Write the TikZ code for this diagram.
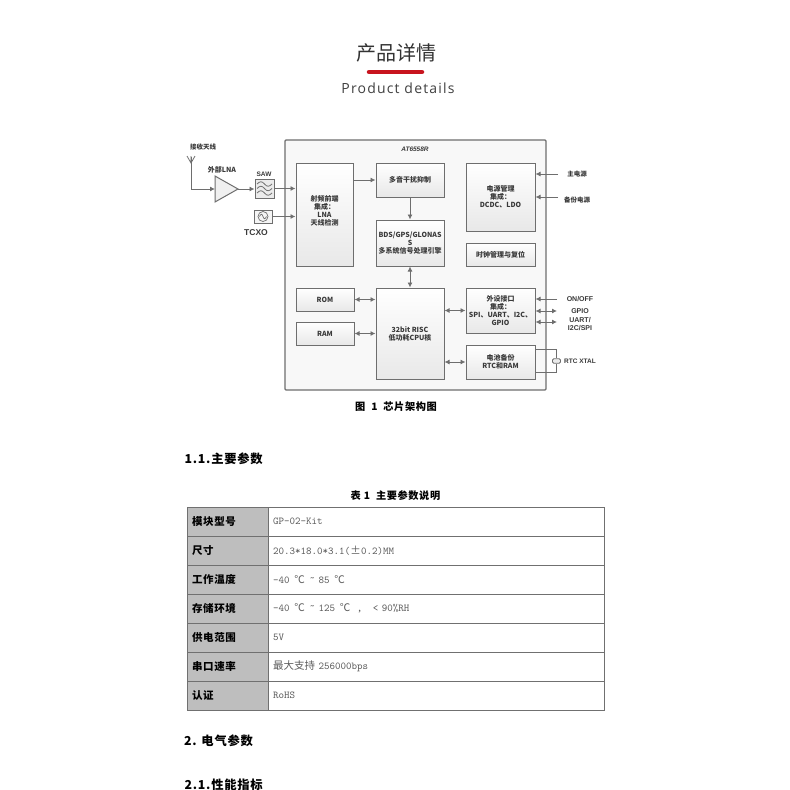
\documentclass[tikz,border=0pt]{standalone}
\usepackage{fontspec}
\usetikzlibrary{arrows.meta,calc}
\setmainfont{Liberation Sans}
\newfontfamily\cjk{Noto Sans CJK SC}
\newfontfamily\cjkls[LetterSpace=6]{Noto Sans CJK SC}
\newfontfamily\prodfont[LetterSpace=8.5]{Open Sans}
\definecolor{linegray}{HTML}{6E6E6E}
\definecolor{txtgray}{HTML}{3A3A3A}
\definecolor{valgray}{HTML}{5A5A5A}
\definecolor{chipbg}{HTML}{F8F8F8}
\definecolor{labelbg}{HTML}{BEBEBE}
\definecolor{rowline}{HTML}{707070}
\definecolor{redbar}{HTML}{C8141E}
\newcommand{\degc}{\makebox[13pt][c]{\cjk ℃}}
\newcommand{\plusmn}{\makebox[11pt][c]{\cjk ±}}
\newcommand{\tld}{\raisebox{2pt}{\textasciitilde}}
\tikzset{
  blk/.style={draw=linegray,line width=1pt,top color=white,bottom color=black!9,inner sep=0pt,
    align=center,text=txtgray,font=\cjk\bfseries\fontsize{7}{8}\selectfont},
  lbl/.style={inner sep=0pt,align=center,text=txtgray,font=\cjk\bfseries\fontsize{7}{8.2}\selectfont},
  conn/.style={draw=linegray,line width=0.9pt},
  one/.style={conn,-{Latex[length=5pt,width=5pt]}},
  two/.style={conn,{Latex[length=5pt,width=5pt]}-{Latex[length=5pt,width=5pt]}},
  head/.style={inner sep=0pt,anchor=west,text=black,font=\cjkls\bfseries\fontsize{12.3}{14}\selectfont},
  capt/.style={inner sep=0pt,text=black,font=\cjkls\bfseries\fontsize{10.2}{12}\selectfont},
  cellL/.style={draw=rowline,line width=1pt,fill=labelbg,minimum width=81pt,inner sep=0pt,
    text width=71pt,align=left,font=\cjkls\bfseries\fontsize{10.5}{12}\selectfont},
  cellR/.style={draw=rowline,line width=1pt,fill=white,minimum width=336pt,inner sep=0pt,
    text width=326pt,align=left,text=valgray,font=\ttfamily\fontsize{10.5}{12}\selectfont}
}
\begin{document}
\begin{tikzpicture}[x=1pt,y=-1pt]
\useasboundingbox (0,0) rectangle (790,790);
\fill[white] (0,0) rectangle (790,790);
% title
\node[inner sep=0pt,text=black!80,font=\cjk\fontsize{20}{22}\selectfont] (title) at (396,53) {产品详情};
\coordinate (barL) at (369,72);
\coordinate (barR) at (422,72);
\draw[redbar,line width=4.5pt,line cap=round] (barL) -- (barR);
\node[inner sep=0pt,text=black!75,font=\prodfont\fontsize{14}{16}\selectfont] (sub) at (398,88) {Product details};
% chip
\node[draw=linegray,line width=1.1pt,fill=chipbg,rounded corners=1pt,minimum width=261pt,minimum height=250pt,inner sep=0pt] (chip) at (415.5,265) {};
\node[lbl,font=\bfseries\itshape\fontsize{6.5}{8}\selectfont] (chipname) at (415,149) {AT6558R};
\node[blk,minimum width=57pt,minimum height=103pt] (rf) at (324.5,214.5) {射频前端\\集成：\\LNA\\天线检测\\~};
\node[blk,minimum width=68pt,minimum height=34pt] (mt) at (410,180) {多音干扰抑制};
\node[blk,minimum width=68pt,minimum height=46pt] (bds) at (410,243) {BDS/GPS/GLONAS\\S\\多系统信号处理引擎};
\node[blk,minimum width=69pt,minimum height=68pt] (pm) at (500.5,197) {电源管理\\集成：\\DCDC、LDO};
\node[blk,minimum width=69pt,minimum height=23pt] (clk) at (500.5,254.5) {时钟管理与复位};
\node[blk,minimum width=58pt,minimum height=23pt] (rom) at (325,299.5) {ROM};
\node[blk,minimum width=58pt,minimum height=23pt] (ram) at (325,333.5) {RAM};
\node[blk,minimum width=68pt,minimum height=91pt] (cpu) at (410,333.5) {32bit RISC\\低功耗CPU核};
\node[blk,minimum width=69pt,minimum height=45pt] (io) at (500.5,310.5) {外设接口\\集成：\\SPI、UART、I2C、\\GPIO};
\node[blk,minimum width=69pt,minimum height=34pt] (bat) at (500.5,362) {电池备份\\RTC和RAM};
% front end
\node[draw=linegray,line width=1pt,fill=black!8,inner sep=0pt,minimum width=19pt,minimum height=19pt] (saw) at (264.5,188.5) {};
\foreach \yy in {184,188.5,193}{
  \draw[linegray,line width=0.8pt] (257,\yy) .. controls (260,\yy-3) and (262,\yy-3) .. (264.5,\yy) .. controls (267,\yy+3) and (269,\yy+3) .. (272,\yy);
}
\node[draw=linegray,line width=1pt,fill=black!4,inner sep=0pt,minimum width=18pt,minimum height=13pt] (tcxo) at (263,216.5) {};
\node[draw=linegray,line width=0.7pt,circle,minimum size=10pt,inner sep=0pt] (tcxoc) at (263,216.5) {};
\draw[linegray,line width=0.7pt] (259.5,216.5) .. controls (261,213.5) and (262,213.5) .. (263,216.5) .. controls (264,219.5) and (265,219.5) .. (266.5,216.5);
\coordinate (lnaA) at (215,176);
\coordinate (lnaB) at (215,202);
\coordinate (lnaT) at (238,189);
\draw[linegray,line width=1pt,fill=black!6] (lnaA) -- (lnaT) -- (lnaB) -- cycle;
\coordinate (lnaIn) at (215,189);
\coordinate (antB) at (191,189);
\coordinate (antT) at (191,157);
\draw[conn] (antT) -- (antB);
\draw[linegray,line width=0.8pt] (187,156) -- (191,163) -- (195,156) (191,156) -- (191,163);
\draw[one] (antB) -- (lnaIn);
\draw[one] (lnaT) -- (saw.west |- lnaT);
\draw[one] (saw.east) -- (saw.east -| rf.west);
\draw[one] (tcxo.east) -- (tcxo.east -| rf.west);
\node[lbl,font=\cjk\bfseries\fontsize{6.5}{8}\selectfont] (ant) at (203,147) {接收天线};
\node[lbl,font=\cjk\bfseries\fontsize{7}{8}\selectfont] (lnat) at (222,170) {外部LNA};
\node[lbl,font=\bfseries\fontsize{6.5}{8}\selectfont] (sawt) at (264,174) {SAW};
\node[lbl,font=\bfseries\fontsize{8.5}{10}\selectfont] (tcxot) at (256,233) {TCXO};
% internal connectors
\coordinate (rfo) at (353,180);
\draw[one] (rfo) -- (mt.west);
\draw[one] (mt.south) -- (bds.north);
\draw[two] (bds.south) -- (cpu.north);
\draw[two] (rom.east) -- (rom.east -| cpu.west);
\draw[two] (ram.east) -- (ram.east -| cpu.west);
\draw[two] (io.west -| cpu.east) -- (io.west);
\draw[two] (bat.west -| cpu.east) -- (bat.west);
% right side
\coordinate (p1) at (558,174);
\coordinate (p2) at (558,197);
\draw[one] (p1) -- (p1 -| pm.east);
\draw[one] (p2) -- (p2 -| pm.east);
\node[lbl,font=\cjk\bfseries\fontsize{6.5}{8}\selectfont] (p1t) at (577,174) {主电源};
\node[lbl,font=\cjk\bfseries\fontsize{6.5}{8}\selectfont] (p2t) at (577,200) {备份电源};
\coordinate (s1) at (557,299);
\coordinate (s2) at (557,311);
\coordinate (s3) at (557,322);
\draw[one] (s1) -- (s1 -| io.east);
\draw[two] (s2 -| io.east) -- (s2);
\draw[two] (s3 -| io.east) -- (s3);
\node[lbl,font=\bfseries\fontsize{7}{8}\selectfont] (s1t) at (580,299) {ON/OFF};
\node[lbl,font=\bfseries\fontsize{7}{8}\selectfont] (s2t) at (580,311) {GPIO};
\node[lbl,font=\bfseries\fontsize{7}{8}\selectfont] (s3t) at (580,324) {UART/\\I2C/SPI};
\coordinate (x1) at (535,349);
\coordinate (x2) at (535,372);
\node[draw=linegray,line width=0.9pt,fill=black!8,rounded corners=1.2pt,minimum width=8pt,minimum height=4.5pt,inner sep=0pt] (xtal) at (556.5,361) {};
\draw[conn] (x1) -| (xtal.north);
\draw[conn] (x2) -| (xtal.south);
\node[lbl,font=\bfseries\fontsize{6.5}{8}\selectfont] (xtalt) at (580,361) {RTC XTAL};
\node[capt] (fig) at (396,407) {图\ \ 1\ \ 芯片架构图};
% headings
\node[head] (h1) at (184.5,459) {1.1.主要参数};
\node[capt] (cap) at (395.5,496) {表 1 \ 主要参数说明};
\node[head] (h2) at (184,741) {2. 电气参数};
\node[head] (h3) at (184.5,785) {2.1.性能指标};
% table
\foreach \nm/\yt/\hh/\ll/\vv in {
  a/507/29/模块型号/GP-02-Kit,
  b/536/29/尺寸/20.3*18.0*3.1(\plusmn 0.2)MM,
  c/565/29/工作温度/-40 \degc\ \tld\ 85 \degc,
  d/594/29/存储环境/{-40 \degc\ \tld\ 125 \degc\ {\rmfamily\,},\ \ \ < 90\%RH},
  e/623/29/供电范围/5V,
  f/652/29/串口速率/{\cjk 最大支持} 256000bps,
  g/681/29/认证/RoHS}{
  \node[cellL,minimum height=\hh pt] (l\nm) at (227.5,\yt+14.5) {\ll};
  \node[cellR,minimum height=\hh pt] (r\nm) at (436,\yt+14.5) {\vv};
}
\end{tikzpicture}
\end{document}
